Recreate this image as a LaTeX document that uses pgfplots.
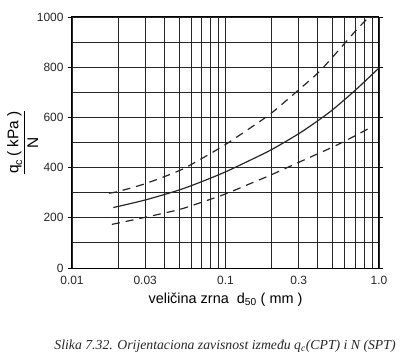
\documentclass[border=0pt]{standalone}
\usepackage{pgfplots}
\pgfplotsset{compat=1.18}
\usepackage{amsmath}
\usepackage{fontspec}
\setmainfont{Liberation Sans}
\newfontfamily\capfont{Liberation Serif}
\begin{document}
\begin{tikzpicture}
\begin{axis}[
  scale only axis, width=307bp, height=251bp,
  at={(0,0)}, anchor=south west,
  xmode=log, xmin=0.01, xmax=1, ymin=0, ymax=1000,
  xtick={0.01,0.03,0.1,0.3,1},
  xticklabels={0.01,0.03,0.1,0.3,1.0},
  minor xtick={0.02,0.04,0.05,0.06,0.07,0.08,0.09,0.2,0.4,0.5,0.6,0.7,0.8,0.9},
  ytick={0,200,400,600,800,1000},
  minor ytick={100,300,500,700,900},
  grid=both,
  major grid style={black!85, line width=0.9pt},
  minor grid style={black!85, line width=0.9pt},
  axis line style={black, line width=1pt},
  xtick style={draw=none},
  minor tick style={draw=none},
  ytick style={black, line width=0.8pt},
  tick align=outside, major tick length=4bp,
  /pgf/number format/assume math mode=true,
  /pgf/number format/1000 sep={},
  tick label style={font=\fontsize{12}{14}\selectfont, text=black!85},
  yticklabel style={xshift=-1bp},
  xticklabel style={yshift=-1bp},
  xlabel={veličina zrna\ \ d\textsubscript{50} ( mm )},
  xlabel style={font=\fontsize{14.5}{16}\selectfont, yshift=-1bp},
  ylabel={$\dfrac{\text{q}_{\text{c}}\text{\,( kPa )}}{\text{N}}$},
  ylabel style={font=\fontsize{15.5}{17}\selectfont, yshift=-8bp},
]
\addplot[black!85, line width=1.2pt, smooth, dash pattern=on 8bp off 6bp] coordinates {
 (0.0174,298) (0.02,305) (0.03,336) (0.05,388) (0.07,436) (0.1,492)
 (0.15,564) (0.2,618) (0.3,710) (0.4,777) (0.5,841) (0.7,943) (0.86,1000)};
\addplot[black!85, line width=1.2pt, smooth] coordinates {
 (0.0186,241) (0.03,271) (0.05,311) (0.07,344) (0.1,383) (0.15,434)
 (0.2,472) (0.3,535) (0.4,587) (0.5,631) (0.7,708) (1.0,797)};
\addplot[black!85, line width=1.2pt, smooth, dash pattern=on 8bp off 6bp] coordinates {
 (0.0182,174) (0.02,179) (0.03,202) (0.05,233) (0.07,262) (0.1,295)
 (0.15,340) (0.2,372) (0.3,421) (0.5,482) (0.7,527) (0.9,563)};
\end{axis}
\node[anchor=base, font=\capfont\itshape\fontsize{13.8}{15}\selectfont, text=black!85] at (153bp,-81bp)
  {Slika 7.32. Orijentaciona zavisnost između q\textsubscript{c}(CPT) i N (SPT)};
\pgfresetboundingbox
\path (-72bp,-94bp) rectangle (340bp,268bp);
\end{tikzpicture}
\end{document}
